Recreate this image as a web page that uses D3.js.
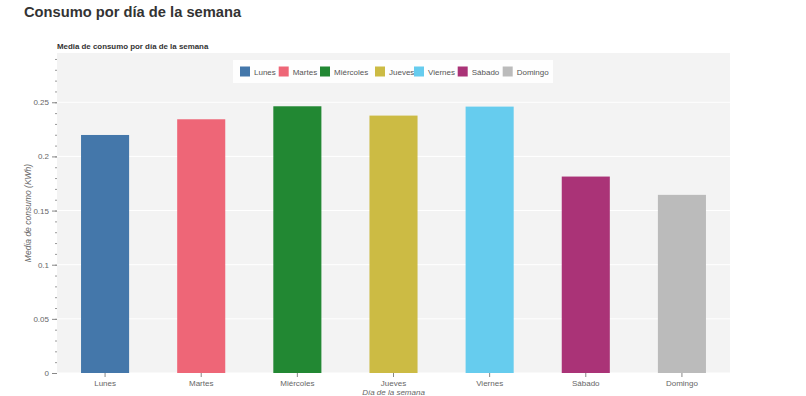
<!DOCTYPE html>
<html>
<head>
<meta charset="utf-8">
<script src="https://cdn.jsdelivr.net/npm/d3@7"></script>
<style>
  body { margin: 0; background: #fff; overflow: hidden; }
  svg { display: block; font-family: "Liberation Sans", Arial, sans-serif; }
</style>
</head>
<body>
<svg id="chart" width="806" height="396"></svg>
<script>
const days = ['Lunes', 'Martes', 'Miércoles', 'Jueves', 'Viernes', 'Sábado', 'Domingo']
const consumo = [0.2198, 0.2343, 0.2463, 0.2377, 0.246, 0.1814, 0.1645]
const colors = ['#4477aa', '#ee6677', '#228833', '#ccbb44', '#66ccee', '#aa3377', '#bbbbbb']
const yTicks = [0, 0.05, 0.1, 0.15, 0.2, 0.25]

const marginLeft = 57
const marginRight = 76
const marginTop = 53
const marginBottom = 23

const svg = d3.select('#chart')
const W = +svg.attr('width')
const H = +svg.attr('height')
const width = W - marginLeft - marginRight
const height = H - marginTop - marginBottom

const x = d3.scaleBand().domain(days).range([0, width]).paddingInner(0.5).paddingOuter(0.25)
const y = d3.scaleLinear().domain([0, 0.2955]).range([height, 0])

// titles
svg.append('text')
  .attr('x', 24).attr('y', 17)
  .attr('font-size', 14.7).attr('font-weight', 'bold').attr('fill', '#333')
  .text('Consumo por día de la semana')

svg.append('text')
  .attr('x', marginLeft).attr('y', 48.5)
  .attr('font-size', 7.9).attr('font-weight', 'bold').attr('fill', '#333')
  .text('Media de consumo por día de la semana')

const g = svg.append('g').attr('transform', `translate(${marginLeft} ${marginTop})`)

g.append('rect')
  .attr('width', width).attr('height', height)
  .attr('fill', '#f3f3f3')

// grid
g.selectAll('.grid')
  .data(yTicks)
  .join('line')
  .attr('x1', 0).attr('x2', width)
  .attr('y1', (d) => y(d)).attr('y2', (d) => y(d))
  .attr('stroke', '#fff').attr('stroke-width', 1)

// bars
g.selectAll('.bar')
  .data(days)
  .join('rect')
  .attr('x', (d) => x(d))
  .attr('width', x.bandwidth())
  .attr('y', (d, i) => y(consumo[i]))
  .attr('height', (d, i) => height - y(consumo[i]))
  .attr('fill', (d, i) => colors[i])

// y axis with minor ticks
const minor = d3.range(0, 0.2955, 0.01)
g.append('g')
  .call(d3.axisLeft(y).tickValues(minor).tickSize(2).tickFormat(''))
  .call((a) => a.select('.domain').remove())
  .call((a) => a.selectAll('line').attr('stroke', '#999'))

g.append('g')
  .call(d3.axisLeft(y).tickValues(yTicks).tickSize(5).tickPadding(3).tickFormat((d) => d3.format('')(+d.toFixed(2))))
  .call((a) => a.select('.domain').remove())
  .call((a) => a.selectAll('line').attr('stroke', '#888'))
  .call((a) => a.selectAll('text').attr('fill', '#666').attr('font-size', 8).attr('font-family', 'Liberation Sans, Arial, sans-serif'))

// x axis
g.append('g')
  .attr('transform', `translate(0 ${height})`)
  .call(d3.axisBottom(x).tickSize(4).tickPadding(3))
  .call((a) => a.select('.domain').remove())
  .call((a) => a.selectAll('line').attr('stroke', '#888'))
  .call((a) => a.selectAll('text').attr('fill', '#666').attr('font-size', 8).attr('font-family', 'Liberation Sans, Arial, sans-serif'))

// axis labels
svg.append('text')
  .attr('transform', `translate(31 ${marginTop + height / 2}) rotate(-90)`)
  .attr('text-anchor', 'middle')
  .attr('font-size', 8.5).attr('font-style', 'italic').attr('fill', '#666')
  .text('Media de consumo (KWh)')

svg.append('text')
  .attr('x', marginLeft + width / 2).attr('y', H - 1.5)
  .attr('text-anchor', 'middle')
  .attr('font-size', 8).attr('font-style', 'italic').attr('fill', '#666')
  .text('Día de la semana')

// legend
const legend = svg.append('g').attr('transform', 'translate(233 60)')
legend.append('rect')
  .attr('width', 320).attr('height', 23)
  .attr('fill', '#fff').attr('fill-opacity', 0.9)

const legendX = [7, 45.7, 87, 142, 181, 224.7, 269.7]
const items = legend.selectAll('.item')
  .data(days)
  .join('g')
  .attr('transform', (d, i) => `translate(${legendX[i]} 6.5)`)
items.append('rect')
  .attr('width', 10).attr('height', 10)
  .attr('fill', (d, i) => colors[i])
items.append('text')
  .attr('x', 14).attr('y', 8.3)
  .attr('font-size', 8).attr('fill', '#555')
  .text((d) => d)
</script>
</body>
</html>
